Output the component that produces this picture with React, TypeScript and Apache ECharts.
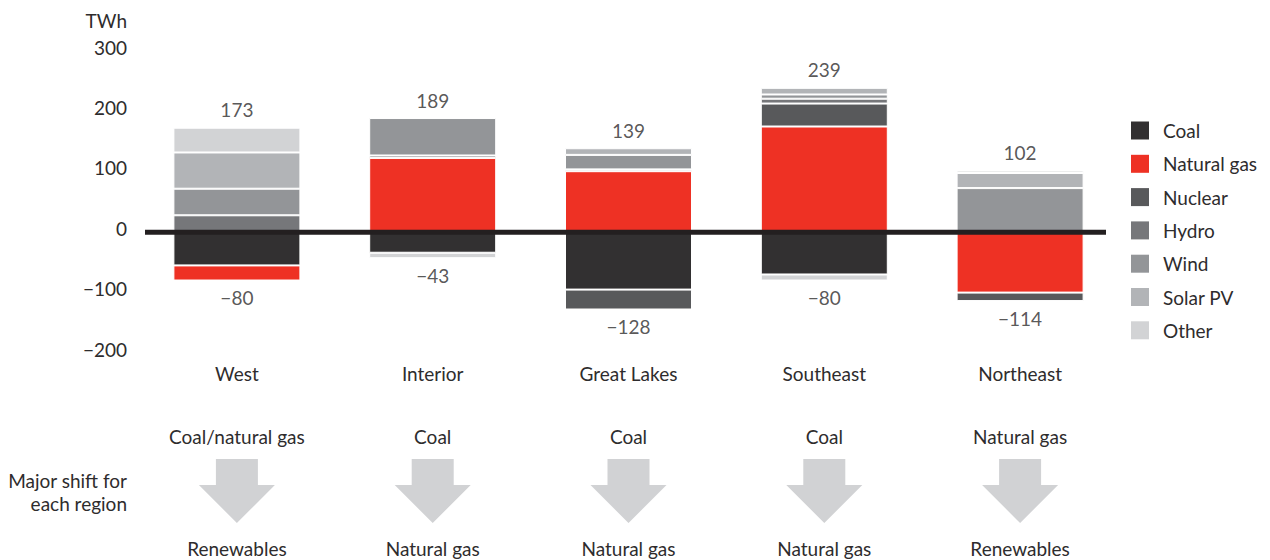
import { useEffect, useRef } from 'react';
import * as echarts from 'echarts';

// Regions and change in generation by source (TWh)
const categories = ['West', 'Interior', 'Great Lakes', 'Southeast', 'Northeast'];
const coal = [-55, -34, -95, -70, null];
const naturalGas = [-25, 123, 101, 175, -100];
const nuclear = [null, null, -33, 38, -14];
const hydro = [28, 4, 3, 8, null];
const wind = [44, 62, 24, 7, 73];
const solarPV = [60, null, 11, 11, 25];
const other = [41, -9, null, -10, 4];

// Major shift for each region
const shiftFrom = ['Coal/natural gas', 'Coal', 'Coal', 'Coal', 'Natural gas'];
const shiftTo = ['Renewables', 'Natural gas', 'Natural gas', 'Natural gas', 'Renewables'];

const yMin = -200;
const yMax = 300;
const yStep = 100;

const FONT = 'Lato, "Noto Sans", sans-serif';
const TEXT = '#2e2c2d';
const FS = 19;

const sources = [
  { name: 'Coal', data: coal, color: '#323031' },
  { name: 'Natural gas', data: naturalGas, color: '#ee3124' },
  { name: 'Nuclear', data: nuclear, color: '#58595b' },
  { name: 'Hydro', data: hydro, color: '#76777a' },
  { name: 'Wind', data: wind, color: '#939598' },
  { name: 'Solar PV', data: solarPV, color: '#b2b4b7' },
  { name: 'Other', data: other, color: '#d2d3d5' },
];

const fmt = (v: number) => (v < 0 ? '\u2212' + Math.abs(v) : String(v));

const posTotals = categories.map((_, i) =>
  sources.reduce((acc, s) => acc + Math.max(0, s.data[i] ?? 0), 0)
);
const negTotals = categories.map((_, i) =>
  sources.reduce((acc, s) => acc + Math.min(0, s.data[i] ?? 0), 0)
);

export default function App() {
  const ref = useRef<HTMLDivElement>(null);

  useEffect(() => {
    document.body.style.margin = '0';
    if (!ref.current) return;
    const chart = echarts.init(ref.current, undefined, { renderer: 'svg' });

    const totalLabel = (position: 'top' | 'bottom', distance: number) => ({
      show: true,
      position,
      distance,
      formatter: (p: any) => fmt(p.value),
      fontSize: FS,
      fontFamily: FONT,
      color: TEXT,
    });

    chart.setOption({
      animation: false,
      grid: { left: 139, width: 979, top: 51, height: 302, containLabel: false },
      legend: {
        data: sources.map((s) => s.name),
        orient: 'vertical',
        left: 1131,
        top: 121,
        padding: 0,
        itemWidth: 36,
        itemHeight: 18,
        itemGap: 14.3,
        icon: 'path://M0,0L10,0L10,10L0,10Z',
        itemStyle: { borderWidth: 0 },
        textStyle: { fontSize: FS, fontFamily: FONT, color: TEXT },
        selectedMode: false,
      },
      xAxis: {
        type: 'category',
        data: categories,
        axisLine: { show: false },
        axisTick: { show: false },
        axisLabel: { margin: 11, fontSize: FS, fontFamily: FONT, color: TEXT },
      },
      yAxis: {
        type: 'value',
        min: yMin,
        max: yMax,
        interval: yStep,
        name: 'TWh',
        nameLocation: 'end',
        nameGap: 21,
        nameTextStyle: {
          align: 'right',
          padding: [0, 12, 0, 0],
          fontSize: FS,
          fontFamily: FONT,
          color: TEXT,
        },
        axisLine: { show: false },
        axisTick: { show: false },
        splitLine: { show: false },
        axisLabel: {
          margin: 12,
          formatter: (v: number) => `{t|${fmt(v)}}`,
          rich: {
            t: {
              padding: [0, 0, 8, 0],
              fontSize: FS,
              fontFamily: FONT,
              color: TEXT,
            },
          },
        },
      },
      series: [
        ...sources.map((s) => ({
          type: 'bar',
          name: s.name,
          stack: 'generation',
          data: s.data.map((v) => (v === null ? '-' : v)),
          barWidth: 127,
          itemStyle: { color: s.color, borderColor: '#ffffff', borderWidth: 1 },
          z: 2,
        })),
        {
          type: 'scatter',
          name: 'Increase',
          data: posTotals,
          symbolSize: 1,
          itemStyle: { color: 'rgba(0,0,0,0)' },
          label: totalLabel('top', 8),
          silent: true,
          z: 5,
        },
        {
          type: 'scatter',
          name: 'Decrease',
          data: negTotals,
          symbolSize: 1,
          itemStyle: { color: 'rgba(0,0,0,0)' },
          label: totalLabel('bottom', 7),
          silent: true,
          z: 5,
        },
      ],
    });

    // Zero baseline, shift annotations and arrows, positioned through the axes
    const y0 = chart.convertToPixel({ yAxisIndex: 0 }, 0) as number;
    const xs = categories.map((_, i) => chart.convertToPixel({ xAxisIndex: 0 }, i) as number);

    const textStyle = (text: string, align: string) => ({
      text,
      fontSize: FS,
      fontFamily: FONT,
      fill: TEXT,
      align,
      verticalAlign: 'middle',
    });

    const graphics: any[] = [
      {
        type: 'line',
        shape: { x1: 145, y1: y0, x2: 1106, y2: y0 },
        style: { stroke: '#231f20', lineWidth: 5 },
        z: 100,
      },
      { type: 'text', x: 127, y: 480, style: textStyle('Major shift for', 'right'), z: 100 },
      { type: 'text', x: 127, y: 503, style: textStyle('each region', 'right'), z: 100 },
    ];

    xs.forEach((cx, i) => {
      graphics.push(
        { type: 'text', x: cx, y: 436, style: textStyle(shiftFrom[i], 'center'), z: 100 },
        { type: 'text', x: cx, y: 548, style: textStyle(shiftTo[i], 'center'), z: 100 },
        {
          type: 'polygon',
          shape: {
            points: [
              [cx - 21, 459],
              [cx + 21, 459],
              [cx + 21, 485],
              [cx + 38, 485],
              [cx, 523],
              [cx - 38, 485],
              [cx - 21, 485],
            ],
          },
          style: { fill: '#d1d2d4' },
          z: 100,
        }
      );
    });

    chart.setOption({ graphic: graphics });

    return () => chart.dispose();
  }, []);

  return <div ref={ref} style={{ width: 1270, height: 560 }} />;
}
